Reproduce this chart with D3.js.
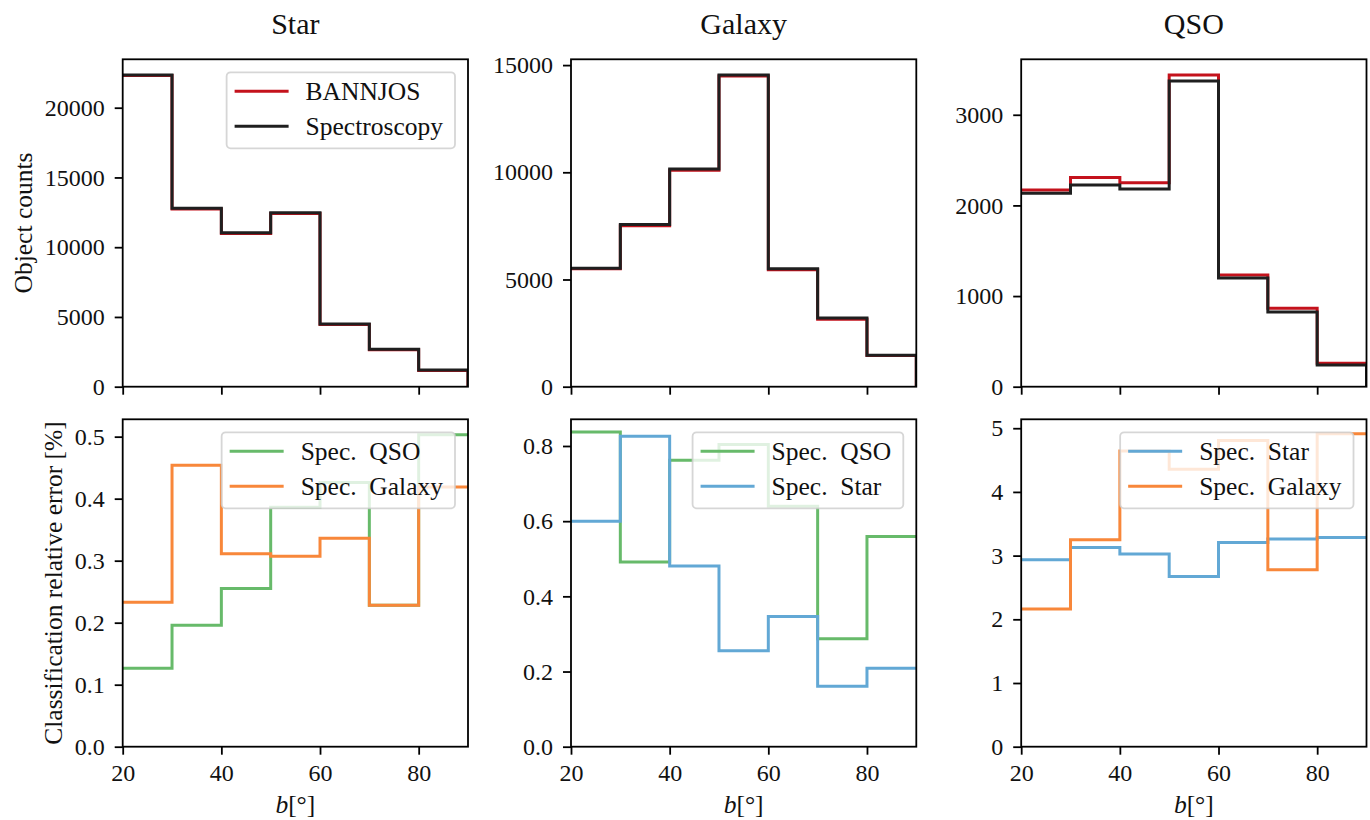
<!DOCTYPE html>
<html>
<head>
<meta charset="utf-8">
<script src="https://cdn.jsdelivr.net/npm/d3@7"></script>
<style>
  html, body { margin: 0; padding: 0; background: #fff; }
  svg text { font-family: "Liberation Serif", "DejaVu Serif", serif; fill: #111; }
</style>
</head>
<body>
<svg id="fig" width="1370" height="820"></svg>
<script>
// Galactic latitude bin edges (degrees)
const binEdges = [20, 30, 40, 50, 60, 70, 80, 90];
const xTicks = [20, 40, 60, 80];

// Object counts per latitude bin
const starBannjos   = [22300, 12730, 10980, 12410, 4460, 2640, 1170];
const starSpec      = [22350, 12790, 11040, 12470, 4495, 2680, 1200];
const galaxyBannjos = [5500, 7510, 10100, 14490, 5450, 3150, 1455];
const galaxySpec    = [5530, 7570, 10150, 14540, 5500, 3200, 1470];
const qsoBannjos    = [2169, 2309, 2250, 3440, 1232, 865, 258];
const qsoSpec       = [2133, 2225, 2180, 3372, 1199, 824, 240];

// Classification relative error [%] per bin, by spectroscopic class
const starErrQso      = [0.1265, 0.196, 0.255, 0.386, 0.426, 0.228, 0.503];
const starErrGalaxy   = [0.233, 0.454, 0.311, 0.307, 0.336, 0.228, 0.419];
const galaxyErrQso    = [0.837, 0.4915, 0.762, 0.804, 0.640, 0.287, 0.559];
const galaxyErrStar   = [0.600, 0.826, 0.481, 0.2555, 0.3465, 0.161, 0.2085];
const qsoErrStar      = [2.936, 3.129, 3.025, 2.674, 3.207, 3.260, 3.285];
const qsoErrGalaxy    = [2.163, 3.249, 4.644, 4.357, 4.806, 2.779, 4.915];

// Column titles and y tick values
const columnTitles = ["Star", "Galaxy", "QSO"];
const countTicks = [[0, 5000, 10000, 15000, 20000], [0, 5000, 10000, 15000], [0, 1000, 2000, 3000]];
const errTicks = [[0, 0.1, 0.2, 0.3, 0.4, 0.5], [0, 0.2, 0.4, 0.6, 0.8], [0, 1, 2, 3, 4, 5]];
const countTop = [23470, 15270, 3612];
const errTop = [0.528, 0.871, 5.14];

const C = {
  red: "#c4121c", black: "#1f1f1f",
  green: "#67ba6a", orange: "#f8873a", blue: "#62a8d5"
};

const panels = [
  { row: 0, col: 0, top: countTop[0], ticks: countTicks[0], fmt: d3.format("d"), legend: true,
    series: [{ name: "BANNJOS", vals: starBannjos, color: C.red }, { name: "Spectroscopy", vals: starSpec, color: C.black }] },
  { row: 0, col: 1, top: countTop[1], ticks: countTicks[1], fmt: d3.format("d"), legend: false,
    series: [{ name: "BANNJOS", vals: galaxyBannjos, color: C.red }, { name: "Spectroscopy", vals: galaxySpec, color: C.black }] },
  { row: 0, col: 2, top: countTop[2], ticks: countTicks[2], fmt: d3.format("d"), legend: false,
    series: [{ name: "BANNJOS", vals: qsoBannjos, color: C.red }, { name: "Spectroscopy", vals: qsoSpec, color: C.black }] },
  { row: 1, col: 0, top: errTop[0], ticks: errTicks[0], fmt: d3.format(".1f"), legend: true,
    series: [{ name: "Spec.  QSO", vals: starErrQso, color: C.green }, { name: "Spec.  Galaxy", vals: starErrGalaxy, color: C.orange }] },
  { row: 1, col: 1, top: errTop[1], ticks: errTicks[1], fmt: d3.format(".1f"), legend: true,
    series: [{ name: "Spec.  QSO", vals: galaxyErrQso, color: C.green }, { name: "Spec.  Star", vals: galaxyErrStar, color: C.blue }] },
  { row: 1, col: 2, top: errTop[2], ticks: errTicks[2], fmt: d3.format("d"), legend: true,
    series: [{ name: "Spec.  Star", vals: qsoErrStar, color: C.blue }, { name: "Spec.  Galaxy", vals: qsoErrGalaxy, color: C.orange }] }
];

// Layout of the 2x3 grid
const colLeft = [122.7, 571, 1021.2];
const axW = 345.3;
const rowTop = [59.3, 419.3];
const axH = 327.4;
const tickLen = 8;
const tickFont = 24;
const textFont = 25.5;
const lineW = 3;

const svg = d3.select("#fig");

panels.forEach((p, i) => {
  const x0 = colLeft[p.col], y0 = rowTop[p.row];
  const x = d3.scaleLinear().domain([20, 90]).range([x0, x0 + axW]);
  const y = d3.scaleLinear().domain([0, p.top]).range([y0 + axH, y0]);
  const g = svg.append("g");

  const clipId = "clip" + i;
  svg.append("clipPath").attr("id", clipId)
    .append("rect").attr("x", x0).attr("y", y0).attr("width", axW).attr("height", axH);

  // Step histograms (count panels close back down to zero at the last edge)
  const plot = g.append("g").attr("clip-path", `url(#${clipId})`);
  p.series.forEach(s => {
    const pts = binEdges.map((e, k) => [e, k < s.vals.length ? s.vals[k] : s.vals[s.vals.length - 1]]);
    if (p.row === 0) pts.push([binEdges[binEdges.length - 1], 0]);
    const line = d3.line().x(d => x(d[0])).y(d => y(d[1])).curve(d3.curveStepAfter);
    plot.append("path").attr("d", line(pts))
      .attr("fill", "none").attr("stroke", s.color).attr("stroke-width", lineW)
      .attr("stroke-linejoin", "miter");
  });

  // Axes
  const yAxis = d3.axisLeft(y).tickValues(p.ticks).tickFormat(p.fmt).tickSize(tickLen).tickPadding(10);
  const xAxis = d3.axisBottom(x).tickValues(xTicks).tickSize(tickLen).tickPadding(9)
    .tickFormat(p.row === 1 ? d3.format("d") : () => "");
  const ya = g.append("g").attr("transform", `translate(${x0},0)`).call(yAxis);
  const xa = g.append("g").attr("transform", `translate(0,${y0 + axH})`).call(xAxis);
  [ya, xa].forEach(a => {
    a.select(".domain").remove();
    a.selectAll("line").attr("stroke", "#000").attr("stroke-width", 1.8);
    a.selectAll("text").attr("font-size", tickFont).attr("fill", "#111")
      .attr("font-family", "Liberation Serif, DejaVu Serif, serif");
  });

  // Frame
  g.append("rect").attr("x", x0).attr("y", y0).attr("width", axW).attr("height", axH)
    .attr("fill", "none").attr("stroke", "#000").attr("stroke-width", 1.8);

  // Legend
  if (p.legend) {
    const lg = g.append("g");
    const box = lg.append("rect");
    const rowH = 35;
    const labels = p.series.map((s, k) => ({ s, cy: y0 + 13 + 19 + k * rowH }));
    const texts = labels.map(({ s, cy }) =>
      lg.append("text").attr("y", cy).attr("dy", "0.35em").attr("font-size", textFont).text(s.name)
        .style("white-space", "pre"));
    const tw = d3.max(texts, t => t.node().getComputedTextLength());
    const bw = 8 + 54 + 17 + tw + 12;
    const bx = x0 + axW - 13 - bw;
    box.attr("x", bx).attr("y", y0 + 13).attr("width", bw).attr("height", 76)
      .attr("rx", 4).attr("fill", "rgba(255,255,255,0.8)")
      .attr("stroke", "rgba(204,204,204,0.8)").attr("stroke-width", 1.8);
    labels.forEach(({ s, cy }, k) => {
      lg.append("line").attr("x1", bx + 8).attr("x2", bx + 62).attr("y1", cy).attr("y2", cy)
        .attr("stroke", s.color).attr("stroke-width", lineW);
      texts[k].attr("x", bx + 79);
    });
  }

  // Column titles
  if (p.row === 0) {
    svg.append("text").attr("x", x0 + axW / 2).attr("y", 34).attr("text-anchor", "middle")
      .attr("font-size", 30).text(columnTitles[p.col]);
  }

  // x label
  if (p.row === 1) {
    const t = svg.append("text").attr("x", x0 + axW / 2).attr("y", 813).attr("text-anchor", "middle")
      .attr("font-size", textFont);
    t.append("tspan").attr("font-style", "italic").text("b");
    t.append("tspan").text("[°]");
  }

  // y label on the first column
  if (p.col === 0) {
    const minX = d3.min(ya.selectAll("text").nodes(), n => n.getBBox().x) + x0;
    const lx = minX - 13;
    svg.append("text").attr("transform", `translate(${lx},${y0 + axH / 2}) rotate(-90)`)
      .attr("text-anchor", "middle").attr("font-size", textFont)
      .text(p.row === 0 ? "Object counts" : "Classification relative error [%]");
  }
});
</script>
</body>
</html>
